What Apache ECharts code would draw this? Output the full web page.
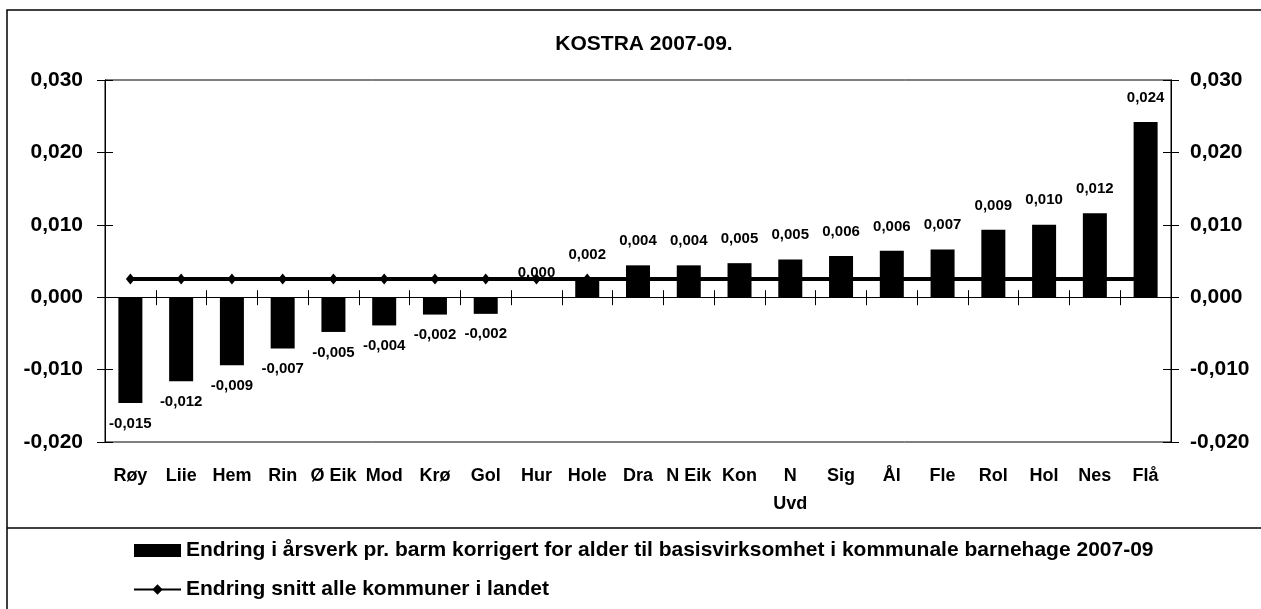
<!DOCTYPE html>
<html lang="no" style="height: 100%">
<head>
  <meta charset="utf-8">
  <title>KOSTRA 2007-09</title>
</head>
<body style="height: 100%; margin: 0; background: #fff">
  <div id="container" style="width: 1261px; height: 609px"></div>

  <script type="text/javascript" src="https://cdn.jsdelivr.net/npm/echarts@6/dist/echarts.min.js"></script>
  <script type="text/javascript">
    // kommuner, sortert etter endring
    const kommuner = ['Røy', 'Liie', 'Hem', 'Rin', 'Ø Eik', 'Mod', 'Krø', 'Gol', 'Hur', 'Hole',
                      'Dra', 'N Eik', 'Kon', 'N Uvd', 'Sig', 'Ål', 'Fle', 'Rol', 'Hol', 'Nes', 'Flå'];
    // endring i årsverk pr. barn korrigert for alder
    const endring = [-0.0146, -0.0116, -0.0094, -0.0071, -0.0048, -0.0039, -0.0024, -0.0023, 0.0000, 0.0024,
                     0.0044, 0.0044, 0.0047, 0.0052, 0.0057, 0.0064, 0.0066, 0.0093, 0.0100, 0.0116, 0.0242];
    // snitt alle kommuner i landet
    const snitt = [0.0025, 0.0025, 0.0025, 0.0025, 0.0025, 0.0025, 0.0025, 0.0025, 0.0025, 0.0025,
                   0.0025, 0.0025, 0.0025, 0.0025, 0.0025, 0.0025, 0.0025, 0.0025, 0.0025, 0.0025, 0.0025];
    const yTicks = [-0.02, -0.01, 0, 0.01, 0.02, 0.03];

    const FONT = "'Liberation Sans', Arial, sans-serif";
    const fmt = v => v.toFixed(3).replace('.', ',');

    var dom = document.getElementById('container');
    var myChart = echarts.init(dom, null, { renderer: 'canvas' });

    const barData = endring.map(v => ({
      value: v,
      label: v < 0 ? { position: 'bottom', distance: 13 } : { position: 'top', distance: 17 }
    }));

    const yBase = {
      type: 'value',
      min: yTicks[0],
      max: yTicks[yTicks.length - 1],
      interval: 0.01,
      splitLine: { show: false },
      axisLine: { show: true, lineStyle: { color: '#000', width: 1 } },
      axisTick: { show: true, length: 8, lineStyle: { color: '#000' } },
      axisLabel: { color: '#000', fontFamily: FONT, fontWeight: 'bold', fontSize: 21, formatter: fmt }
    };
    const xBase = {
      type: 'category',
      data: kommuner,
      position: 'bottom'
    };

    var option = {
      backgroundColor: '#fff',
      animation: false,
      title: {
        text: 'KOSTRA 2007-09.',
        left: 639,
        textAlign: 'center',
        top: 29,
        textStyle: { color: '#000', fontFamily: FONT, fontWeight: 'bold', fontSize: 21 }
      },
      grid: {
        left: 105, right: 90, top: 80, bottom: 167,
        show: true, borderColor: '#000', borderWidth: 1, backgroundColor: 'transparent'
      },
      legend: {
        orient: 'vertical',
        left: 133,
        top: 540,
        padding: 0,
        itemGap: 18,
        itemWidth: 47,
        itemHeight: 13,
        textStyle: { color: '#000', fontFamily: FONT, fontWeight: 'bold', fontSize: 21, lineHeight: 20 },
        data: [
          { name: 'Endring i årsverk pr. barm korrigert for alder til basisvirksomhet i kommunale barnehage 2007-09', icon: 'rect' },
          { name: 'Endring snitt alle kommuner i landet' }
        ]
      },
      xAxis: [
        Object.assign({}, xBase, {
          axisLine: { show: false, onZero: false },
          axisTick: { show: false },
          axisLabel: {
            color: '#000', fontFamily: FONT, fontWeight: 'bold', fontSize: 18, margin: 20,
            lineHeight: 28, interval: 0,
            formatter: v => v === 'N Uvd' ? 'N\nUvd' : v
          }
        }),
        Object.assign({}, xBase, {
          axisLine: { show: true, onZero: true, lineStyle: { color: '#000', width: 1 } },
          axisTick: { show: true, length: 8, lineStyle: { color: '#000' } },
          axisLabel: { show: false }
        }),
        Object.assign({}, xBase, {
          axisLine: { show: true, onZero: true, lineStyle: { color: '#000', width: 1 } },
          axisTick: { show: true, inside: true, length: 7, lineStyle: { color: '#000' } },
          axisLabel: { show: false }
        })
      ],
      yAxis: [
        Object.assign({}, yBase, { position: 'left', axisLabel: Object.assign({}, yBase.axisLabel, { margin: 22 }) }),
        Object.assign({}, yBase, { position: 'right', axisLabel: Object.assign({}, yBase.axisLabel, { margin: 19 }) }),
        Object.assign({}, yBase, { position: 'left', axisTick: { show: true, inside: true, length: 8, lineStyle: { color: '#000' } }, axisLabel: { show: false } }),
        Object.assign({}, yBase, { position: 'right', axisTick: { show: true, inside: true, length: 8, lineStyle: { color: '#000' } }, axisLabel: { show: false } })
      ],
      series: [
        {
          name: 'Endring snitt alle kommuner i landet',
          type: 'line',
          xAxisIndex: 0,
          yAxisIndex: 0,
          data: snitt,
          z: 2,
          symbol: 'diamond',
          symbolSize: [9, 11],
          lineStyle: { color: '#000', width: 4 },
          itemStyle: { color: '#000' }
        },
        {
          name: 'Endring i årsverk pr. barm korrigert for alder til basisvirksomhet i kommunale barnehage 2007-09',
          type: 'bar',
          xAxisIndex: 0,
          yAxisIndex: 0,
          data: barData,
          z: 3,
          barWidth: 24,
          itemStyle: { color: '#000' },
          label: {
            show: true,
            color: '#000',
            fontFamily: FONT,
            fontWeight: 'bold',
            fontSize: 15,
            formatter: p => fmt(p.value)
          }
        }
      ],
      graphic: [
        { type: 'rect', shape: { x: 7, y: 10, width: 1400, height: 800 }, style: { fill: null, stroke: '#000', lineWidth: 1.5 }, silent: true, z: 0 },
        { type: 'line', shape: { x1: 7, y1: 528, x2: 1261, y2: 528 }, style: { stroke: '#000', lineWidth: 1.5 }, silent: true }
      ]
    };

    myChart.setOption(option);
    window.addEventListener('resize', myChart.resize);
  </script>
</body>
</html>
